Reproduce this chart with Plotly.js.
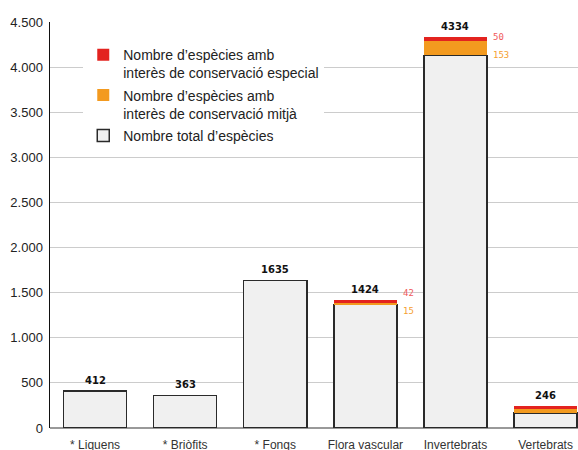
<!DOCTYPE html>
<html>
<head>
<meta charset="utf-8">
<script src="https://cdn.plot.ly/plotly-3.0.1.min.js"></script>
<style>html,body{margin:0;padding:0;background:#fff;}#chart{width:578px;height:450px;}</style>
</head>
<body>
<div id="chart"></div>
<script>
const categories = ["* Liquens", "* Briòfits", "* Fongs", "Flora vascular", "Invertebrats", "Vertebrats"];
const totals = [412, 363, 1635, 1424, 4334, 246];
const especial = [null, null, null, 42, 50, 33];
const mitja = [null, null, null, 15, 153, 48];
const seriesNames = [
  "Nombre d’espècies amb<br>interès de conservació especial",
  "Nombre d’espècies amb<br>interès de conservació mitjà",
  "Nombre total d’espècies"
];
const yTicks = [0, 500, 1000, 1500, 2000, 2500, 3000, 3500, 4000, 4500];

const rest = totals.map((t, i) => t - (especial[i] || 0) - (mitja[i] || 0));

const traces = [
  {type: 'bar', x: categories, y: rest, name: seriesNames[2], legendgroup: 'c', legendrank: 3,
   marker: {color: '#f0f0f0', line: {color: '#2a2a2a', width: 1.5}}, hoverinfo: 'none'},
  {type: 'bar', x: categories, y: mitja, name: seriesNames[1], legendgroup: 'b', legendrank: 2,
   marker: {color: '#f39a1f', line: {width: 0}}, hoverinfo: 'none'},
  {type: 'bar', x: categories, y: especial, name: seriesNames[0], legendgroup: 'a', legendrank: 1,
   marker: {color: '#e3231f', line: {width: 0}}, hoverinfo: 'none'}
];

const annotations = [];
categories.forEach((c, i) => {
  annotations.push({x: c, y: totals[i], text: String(totals[i]), showarrow: false,
    yanchor: 'bottom', yshift: 3, font: {family: 'DejaVu Sans', size: 10, color: '#111', weight: 'bold'}});
  const mid = (totals[i] + rest[i]) / 2;
  if (especial[i] != null) {
    annotations.push({x: c, y: mid, text: String(especial[i]), showarrow: false,
      xanchor: 'left', yanchor: 'bottom', xshift: 36, yshift: 2,
      font: {family: 'DejaVu Sans Mono', size: 9, color: '#f05a5a'}});
  }
  if (mitja[i] != null) {
    annotations.push({x: c, y: mid, text: String(mitja[i]), showarrow: false,
      xanchor: 'left', yanchor: 'top', xshift: 36, yshift: -2,
      font: {family: 'DejaVu Sans Mono', size: 9, color: '#f5a030'}});
  }
});

const layout = {
  width: 578, height: 450,
  margin: {l: 50, r: 0, t: 22, b: 22, pad: 0},
  paper_bgcolor: '#fff', plot_bgcolor: '#fff',
  barmode: 'stack', bargap: 0.3,
  separators: ',.',
  font: {family: 'Liberation Sans, Arial, sans-serif', color: '#222'},
  showlegend: true,
  legend: {x: 0.063, y: 0.958, xanchor: 'left', yanchor: 'top', bgcolor: '#fff',
    traceorder: 'grouped', valign: 'top', font: {size: 14, color: '#222'},
    borderwidth: 0, itemwidth: 30, tracegroupgap: 1},
  xaxis: {type: 'category', range: [-0.5, 5.36], showgrid: false, showline: false, zeroline: false,
    ticks: 'outside', ticklen: 6, tickcolor: 'rgba(0,0,0,0)',
    tickfont: {size: 12, color: '#333'}, fixedrange: true},
  yaxis: {range: [0, 4500], tickvals: yTicks, tickformat: ',d', showgrid: true, gridcolor: '#cccccc', gridwidth: 1,
    zeroline: true, zerolinecolor: '#999', zerolinewidth: 1.5,
    showline: true, linecolor: '#111', linewidth: 1.5,
    ticks: 'outside', ticklen: 3, tickcolor: 'rgba(0,0,0,0)',
    tickfont: {size: 13, color: '#222'}, fixedrange: true},
  annotations: annotations
};

Plotly.newPlot('chart', traces, layout, {displayModeBar: false, staticPlot: true});
</script>
</body>
</html>
